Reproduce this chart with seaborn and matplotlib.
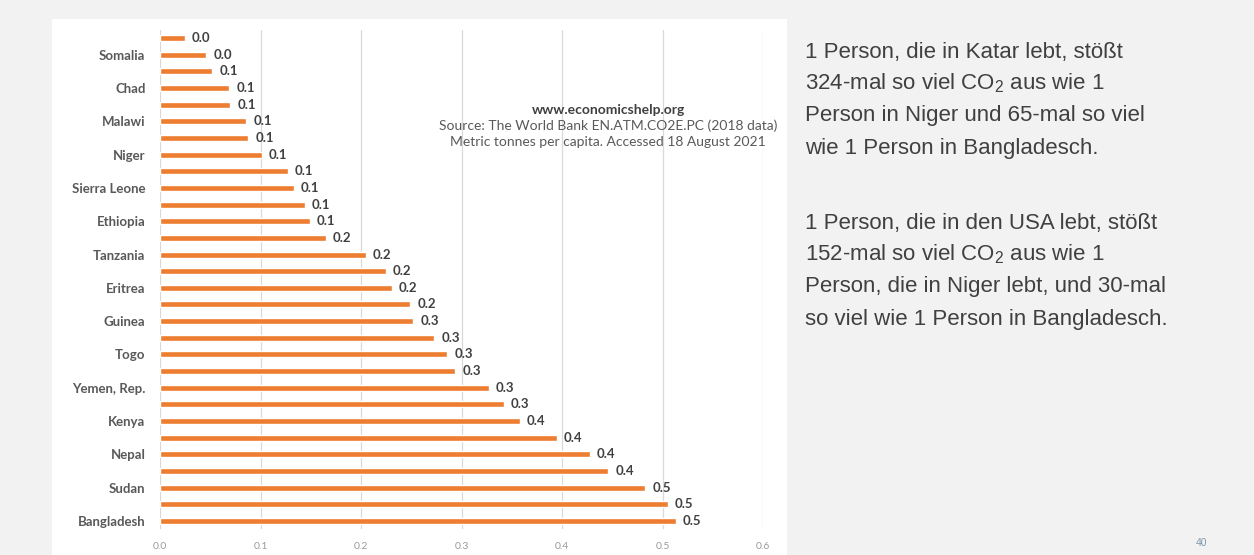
import matplotlib
matplotlib.use("Agg")
import matplotlib.pyplot as plt
from matplotlib.patches import Rectangle
import seaborn as sns
import pandas as pd

# CO2 emissions per capita (metric tonnes), 2018, lowest-emitting countries
countries = [
    "Congo, Dem. Rep.", "Somalia", "Central African Republic", "Chad", "Burundi",
    "Malawi", "Rwanda", "Niger", "Madagascar", "Sierra Leone",
    "Uganda", "Ethiopia", "Mali", "Tanzania", "Mozambique",
    "Eritrea", "Liberia", "Guinea", "Burkina Faso", "Togo",
    "Gambia, The", "Yemen, Rep.", "Guinea-Bissau", "Kenya", "Haiti",
    "Nepal", "Benin", "Sudan", "Zambia", "Bangladesh",
]
co2_per_capita = [
    0.025, 0.046, 0.052, 0.069, 0.070,
    0.086, 0.088, 0.101, 0.127, 0.133,
    0.144, 0.149, 0.165, 0.205, 0.225,
    0.231, 0.249, 0.252, 0.273, 0.286,
    0.294, 0.327, 0.342, 0.358, 0.395,
    0.428, 0.446, 0.483, 0.505, 0.513,
]
x_ticks = [0.0, 0.1, 0.2, 0.3, 0.4, 0.5, 0.6]

source_lines = [
    "www.economicshelp.org",
    "Source: The World Bank EN.ATM.CO2E.PC (2018 data)",
    "Metric tonnes per capita. Accessed 18 August 2021",
]
paragraph_1 = [
    "1 Person, die in Katar lebt, stößt",
    "324-mal so viel CO$_\\mathregular{2}$ aus wie 1",
    "Person in Niger und 65-mal so viel",
    "wie 1 Person in Bangladesch.",
]
paragraph_2 = [
    "1 Person, die in den USA lebt, stößt",
    "152-mal so viel CO$_\\mathregular{2}$ aus wie 1",
    "Person, die in Niger lebt, und 30-mal",
    "so viel wie 1 Person in Bangladesch.",
]
page_number = "40"

df = pd.DataFrame({"country": countries, "co2": co2_per_capita})

sns.set_theme(style="white")
plt.rcParams["font.family"] = ["Lato", "DejaVu Sans"]
plt.rcParams["mathtext.fontset"] = "custom"

W, H = 1254, 555
fig = plt.figure(figsize=(W / 100, H / 100), dpi=100)
fig.patch.set_facecolor("#f2f2f2")

# white chart panel behind the axes
fig.patches.append(Rectangle((52 / W, 0), (787 - 52) / W, 1 - 18.5 / H,
                             transform=fig.transFigure, facecolor="white",
                             edgecolor="none", zorder=-5))

ax = fig.add_axes([160 / W, 1 - 529.3 / H, (763 - 160) / W, (529.3 - 29.7) / H])
ax.set_zorder(2)
ax.set_facecolor("none")

sns.barplot(data=df, x="co2", y="country", orient="h", color="#ED7D31",
            width=0.36, saturation=1, ax=ax, zorder=3)

ax.bar_label(ax.containers[0], fmt="%.1f", padding=5, fontsize=9.5,
             fontweight="bold", color="#404040")

ax.set_xlim(0, 0.6)
ax.set_ylim(len(countries) - 0.5, -0.5)
ax.set_xticks(x_ticks)
ax.set_xticklabels([f"{t:.1f}" for t in x_ticks], fontsize=7.5, color="#9a9a9a")
label_pos = list(range(1, len(countries), 2))
ax.set_yticks(label_pos)
ax.set_yticklabels([countries[i] for i in label_pos], fontsize=9.5,
                   fontweight="bold", color="#595959")
ax.tick_params(axis="both", length=0)
ax.tick_params(axis="y", pad=10.5)
ax.tick_params(axis="x", pad=9)
ax.set_xlabel("")
ax.set_ylabel("")
for s in ax.spines.values():
    s.set_visible(False)
for t in x_ticks:
    ax.axvline(t, color="#d9d9d9", lw=0.9, zorder=1)

# source note inside the chart
cx = 608 / W
fig.text(cx, 1 - 110 / H, source_lines[0], ha="center", va="center",
         fontsize=10, fontweight="bold", color="#404040", zorder=5)
fig.text(cx, 1 - 126 / H, source_lines[1], ha="center", va="center",
         fontsize=10, color="#595959", zorder=5)
fig.text(cx, 1 - 142 / H, source_lines[2], ha="center", va="center",
         fontsize=10, color="#595959", zorder=5)

# explanatory paragraphs on the right
tx = 805 / W
for lines, base in ((paragraph_1, 57.5), (paragraph_2, 228.5)):
    for k, line in enumerate(lines):
        fig.text(tx, 1 - (base + 32 * k) / H, line, ha="left", va="baseline",
                 fontsize=16, color="#404040",
                 family=["Liberation Sans", "DejaVu Sans"])

fig.text(1202 / W, 1 - 543 / H, page_number, ha="center", va="center",
         fontsize=7.5, color="#8497b0", family=["Liberation Sans"])

fig.savefig("out.png", dpi=100, facecolor=fig.get_facecolor())
